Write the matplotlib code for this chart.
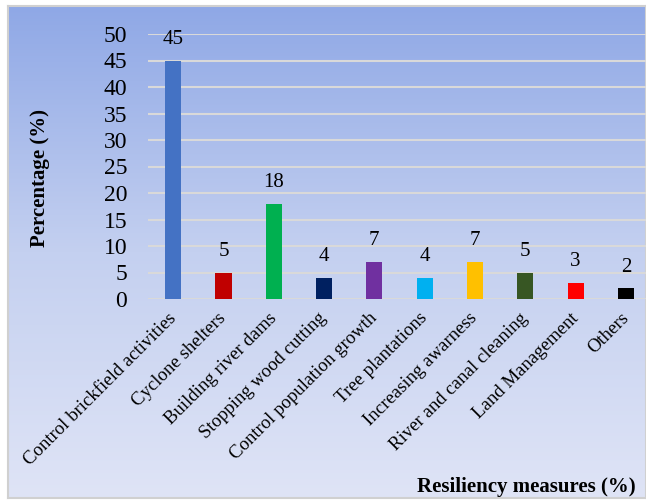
import numpy as np
import matplotlib
matplotlib.use('Agg')
import matplotlib.pyplot as plt
from matplotlib.colors import LinearSegmentedColormap

measures = ['Control brickfield activities', 'Cyclone shelters', 'Building river dams',
            'Stopping wood cutting', 'Control population growth', 'Tree plantations',
            'Increasing awarness', 'River and canal cleaning', 'Land Management', 'Others']
percent = [45, 5, 18, 4, 7, 4, 7, 5, 3, 2]
bar_colors = ['#4472c4', '#c00000', '#00b050', '#002060', '#7030a0',
              '#00b0f0', '#ffc000', '#375623', '#ff0000', '#000000']

plt.rcParams['font.family'] = ['Liberation Serif', 'DejaVu Serif']

fig = plt.figure(figsize=(6.46, 5.01), dpi=100)

# gradient background
bg = fig.add_axes([8 / 646, 3 / 501, 1 - 8 / 646, 1 - 9 / 501])
cmap = LinearSegmentedColormap.from_list('bg', ['#8fa8e6', '#c4d0f0', '#dfe4f6'])
bg.imshow(np.linspace(0, 1, 256).reshape(-1, 1), aspect='auto', cmap=cmap,
          extent=[0, 1, 0, 1])
bg.set_xticks([])
bg.set_yticks([])
for s in bg.spines.values():
    s.set_color('#d0d0d0')
    s.set_linewidth(1.5)

ax = fig.add_axes([148 / 646, 1 - 299 / 501, 1 - 148 / 646, (299 - 34) / 501])
ax.patch.set_alpha(0)
x = np.arange(len(measures))
ax.bar(x, percent, width=0.32, color=bar_colors, zorder=3)
for xi, v in zip(x, percent):
    ax.text(xi, v + 2.2, str(v), ha='center', va='bottom', fontsize=15)

ax.set_ylim(0, 50)
ax.set_xlim(-0.5, 9.4)
ax.set_yticks(range(0, 51, 5))
ax.tick_params(axis='y', labelsize=17, length=0, pad=15)
ax.tick_params(axis='x', length=0, pad=12)
ax.set_xticks(x)
ax.set_xticklabels(measures, rotation=45, ha='right', va='center',
                   rotation_mode='anchor', fontsize=13.5)
ax.grid(axis='y', color='#d9d9d9', linewidth=1.5, zorder=0)
for s in ax.spines.values():
    s.set_visible(False)

fig.text(40 / 646, 1 - 178 / 501, 'Percentage (%)', rotation=90, ha='center', va='center',
         fontsize=15, fontweight='bold')
fig.text(636 / 646, 1 - 487 / 501, 'Resiliency measures (%)', ha='right', va='center',
         fontsize=15, fontweight='bold')

plt.savefig('out.png', dpi=100)
